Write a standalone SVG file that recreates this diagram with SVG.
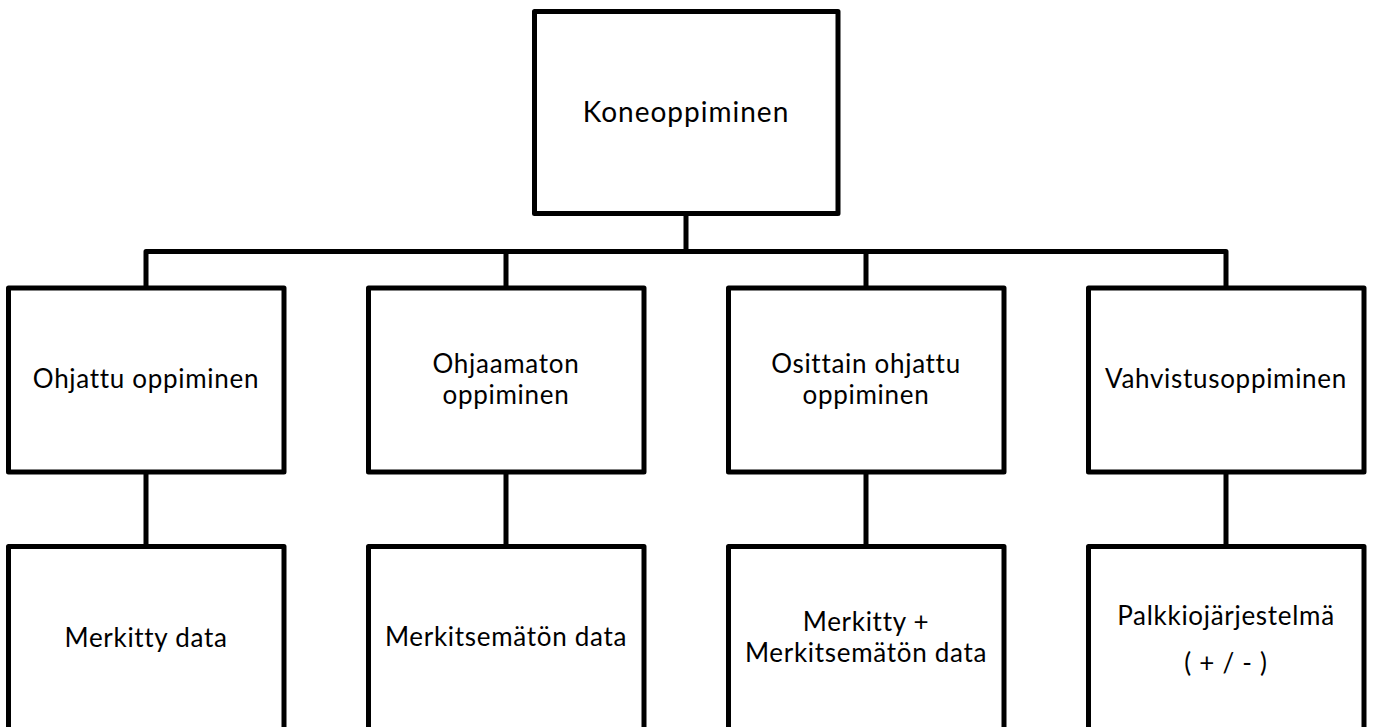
<svg xmlns="http://www.w3.org/2000/svg" width="1374" height="727" viewBox="0 0 1374 727">
<style>
.box{fill:#fff;stroke:#000;stroke-width:5;stroke-linejoin:round}
.conn{fill:none;stroke:#000;stroke-width:5;stroke-linejoin:round}
.t{font-family:Lato,"Open Sans",sans-serif;font-size:26px;letter-spacing:0.7px;fill:#000;text-anchor:middle}
.big{font-size:28px;letter-spacing:1px}
</style>
<rect width="1374" height="727" fill="#fff"/>
<g id="connectors">
<path class="conn" d="M686 213.5V251.5M146 288V251.5H1226V288M506 251.5V288M866 251.5V288"/>
<path class="conn" d="M146 472V546.5M506 472V546.5M866 472V546.5M1226 472V546.5"/>
</g>
<g id="n0"><rect class="box" x="534.5" y="11.5" width="303.5" height="202"/><text class="t big" x="686" y="122">Koneoppiminen</text></g>
<g id="n1"><rect class="box" x="8.5" y="288" width="275.5" height="184"/><text class="t" x="146" y="388">Ohjattu oppiminen</text></g>
<g id="n2"><rect class="box" x="368.5" y="288" width="275.5" height="184"/><text class="t" x="506" y="373"><tspan x="506">Ohjaamaton</tspan><tspan x="506" y="404">oppiminen</tspan></text></g>
<g id="n3"><rect class="box" x="728.5" y="288" width="275.5" height="184"/><text class="t" x="866" y="373"><tspan x="866">Osittain ohjattu</tspan><tspan x="866" y="404">oppiminen</tspan></text></g>
<g id="n4"><rect class="box" x="1088.5" y="288" width="275.5" height="184"/><text class="t" x="1226" y="388">Vahvistusoppiminen</text></g>
<g id="n5"><rect class="box" x="8.5" y="546.5" width="275.5" height="200"/><text class="t" x="146" y="646.5">Merkitty data</text></g>
<g id="n6"><rect class="box" x="368.5" y="546.5" width="275.5" height="200"/><text class="t" x="506" y="645.5">Merkitsemätön data</text></g>
<g id="n7"><rect class="box" x="728.5" y="546.5" width="275.5" height="200"/><text class="t" x="866" y="630.5"><tspan x="866">Merkitty +</tspan><tspan x="866" y="661.5">Merkitsemätön data</tspan></text></g>
<g id="n8"><rect class="box" x="1088.5" y="546.5" width="275.5" height="200"/><text class="t" x="1226" y="625"><tspan x="1226">Palkkiojärjestelmä</tspan><tspan x="1226" y="671.5">( + / - )</tspan></text></g>
</svg>
